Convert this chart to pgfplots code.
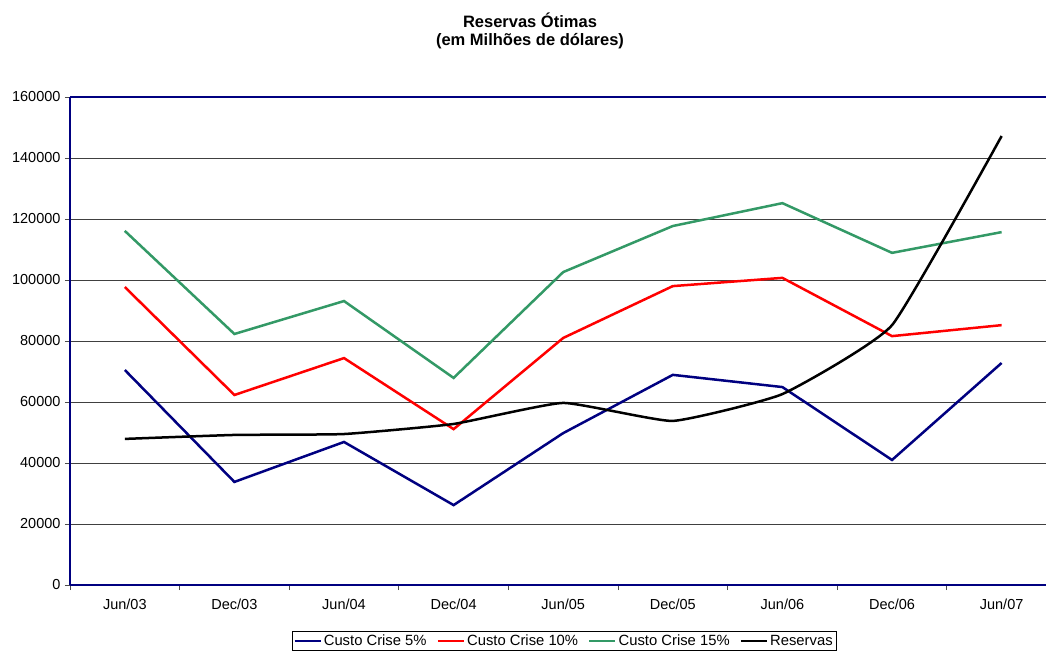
\documentclass[border=0pt]{standalone}
\usepackage{pgfplots}
\pgfplotsset{compat=1.18}
\usepackage{fontspec}
\setmainfont{Liberation Sans}
\definecolor{navyc}{RGB}{0,0,128}
\definecolor{seag}{RGB}{51,153,102}
\begin{document}
\begin{tikzpicture}[x=1bp,y=1bp]
\begin{axis}[
  at={(70bp,-585bp)}, anchor=south west,
  scale only axis, width=976bp, height=488bp,
  xmin=-0.5, xmax=8.405, ymin=0, ymax=160000,
  xtick={0,...,8},
  xticklabels={Jun/03,Dec/03,Jun/04,Dec/04,Jun/05,Dec/05,Jun/06,Dec/06,Jun/07},
  minor xtick={-0.5,0.5,...,7.5},
  xtick pos=left, ytick pos=left,
  major x tick style={draw=none},
  minor x tick style={draw=black!70, line width=0.8bp},
  ytick={0,20000,...,160000},
  ytick style={draw=black!70, line width=0.8bp},
  tick align=outside, major tick length=5bp, minor tick length=5bp,
  ymajorgrids, grid style={draw=black!75, line width=0.6bp},
  axis line style={draw=none},
  scaled y ticks=false,
  /pgf/number format/fixed, /pgf/number format/set thousands separator={}, /pgf/number format/assume math mode=true,
  ticklabel style={font=\fontsize{14.5bp}{16bp}\selectfont},
  xticklabel style={yshift=-5bp},
  yticklabel style={xshift=-1bp},
  legend style={at={(0.5,0)}, anchor=north, yshift=-46bp, xshift=6bp, legend columns=4, draw=black, line width=0.6bp,
    font=\fontsize{14.8bp}{16bp}\selectfont, inner sep=1.5bp,
    /tikz/every even column/.append style={column sep=8bp}},
  legend image code/.code={\draw[#1, line width=2.5bp] (0bp,0bp) -- (26bp,0bp);},
  every axis plot/.append style={line width=2.5bp},
  clip=false,
]
\addplot[navyc] coordinates {(0,70500) (1,33800) (2,46900) (3,26200) (4,49800) (5,68900) (6,64900) (7,41000) (8,72800)};
\addlegendentry{Custo Crise 5\%}
\addplot[red] coordinates {(0,97700) (1,62300) (2,74400) (3,51100) (4,81000) (5,98000) (6,100700) (7,81600) (8,85200)};
\addlegendentry{Custo Crise 10\%}
\addplot[seag] coordinates {(0,116100) (1,82300) (2,93100) (3,67900) (4,102600) (5,117700) (6,125200) (7,108900) (8,115700)};
\addlegendentry{Custo Crise 15\%}
\addplot[black, smooth, tension=0.25] coordinates {(0,47900) (1,49200) (2,49500) (3,52800) (4,59700) (5,53800) (6,62600) (7,85200) (8,147200)};
\addlegendentry{Reservas}
\draw[navyc, line width=2.5bp] (axis cs:-0.5,0) -- (axis cs:-0.5,160000);
\draw[navyc, line width=2.5bp] (axis cs:-0.5,0) -- (axis cs:8.405,0);
\draw[navyc, line width=2.5bp] (axis cs:-0.5,160000) -- (axis cs:8.405,160000);
\end{axis}
\node[font=\bfseries\fontsize{16.5bp}{18bp}\selectfont, align=center] at (530bp,-31bp) {Reservas Ótimas\\(em Milhões de dólares)};
\pgfresetboundingbox
\path[use as bounding box] (0,0) rectangle (1046bp,-651bp);
\end{tikzpicture}
\end{document}
